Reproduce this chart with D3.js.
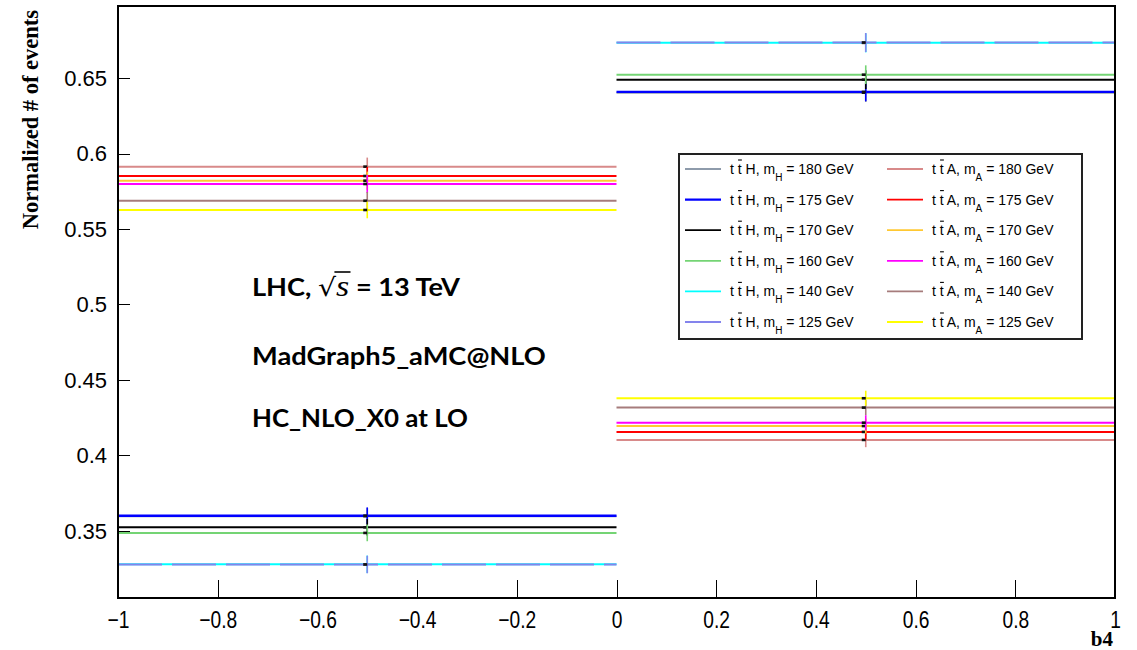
<!DOCTYPE html>
<html>
<head>
<meta charset="utf-8">
<script src="https://cdn.jsdelivr.net/npm/d3@7"></script>
<style>
  html, body { margin: 0; padding: 0; background: #fff; }
  svg { display: block; }
</style>
</head>
<body>
<svg id="chart" width="1137" height="650"></svg>
<script>
// b4 distribution: two bins, normalised fractions with statistical errors
const binEdges   = [-1, 0, 1];
const binCenters = [-0.5, 0.5];

// one entry per sample: tt̄H (scalar) and tt̄A (pseudoscalar) at several masses
const process = ["H", "H", "H", "H", "H", "H", "A", "A", "A", "A", "A", "A"];
const mass    = [180, 175, 170, 160, 140, 125, 180, 175, 170, 160, 140, 125];
const colors  = ["#8e9bab", "#0000ff", "#000000", "#74d474", "#00ffff", "#8484ec",
                 "#d88a8a", "#ff0000", "#ffc832", "#ff00ff", "#a67c7c", "#ffff00"];

// fraction of events with b4 < 0 and b4 > 0
const fracNeg = [0.3598, 0.3601, 0.3524, 0.3487, 0.3279, 0.3278,
                 0.5913, 0.5851, 0.5820, 0.5798, 0.5687, 0.5626];
const fracPos = [0.6403, 0.6408, 0.6489, 0.6522, 0.6733, 0.6735,
                 0.4103, 0.4156, 0.4195, 0.4217, 0.4317, 0.4379];
const errNeg  = [0.0055, 0.0055, 0.0055, 0.0055, 0.0058, 0.0058,
                 0.0060, 0.0060, 0.0060, 0.0060, 0.0058, 0.0055];
const errPos  = [0.0062, 0.0062, 0.0062, 0.0062, 0.0063, 0.0063,
                 0.0048, 0.0050, 0.0050, 0.0050, 0.0050, 0.0050];

const xTickValues = [-1, -0.8, -0.6, -0.4, -0.2, 0, 0.2, 0.4, 0.6, 0.8, 1];
const yTickValues = [0.35, 0.4, 0.45, 0.5, 0.55, 0.6, 0.65];

const annotations = ["MadGraph5_aMC@NLO", "HC_NLO_X0 at LO"];

const svg = d3.select("#chart");
const frame = { left: 118, right: 1115, top: 6, bottom: 598 };

const x = d3.scaleLinear().domain([-1, 1]).range([frame.left, frame.right]);
const y = d3.scaleLinear().domain([0.3056, 0.6977]).range([frame.bottom, frame.top]);

// ---------- axes (ticks point into the frame) ----------
const fmt = d3.format("~g");
const minorX = d3.range(-1, 1.0001, 0.05).map(v => +v.toFixed(2));
const minorY = d3.range(0.31, 0.6901, 0.01).map(v => +v.toFixed(2));

const gx = svg.append("g").attr("transform", `translate(0,${frame.bottom})`);
gx.call(d3.axisBottom(x).tickValues(minorX).tickSize(-9).tickFormat(""));
gx.call(d3.axisBottom(x).tickValues(xTickValues).tickSize(-18).tickPadding(13).tickFormat(fmt));
gx.selectAll(".domain").remove();
gx.selectAll("line").attr("stroke", "#000").attr("shape-rendering", "crispEdges");
// condensed tick labels along b4
gx.selectAll(".tick text")
  .attr("fill", "#000")
  .style("font-family", "'Liberation Sans', Arial, sans-serif")
  .style("font-size", "24px")
  .each(function () {
    const t = d3.select(this);
    const yy = +t.attr("y");
    t.attr("y", null).attr("transform", `translate(0,${yy}) scale(0.8,1)`);
  });

const gy = svg.append("g").attr("transform", `translate(${frame.left},0)`);
gy.call(d3.axisLeft(y).tickValues(minorY).tickSize(-12).tickFormat(""));
gy.call(d3.axisLeft(y).tickValues(yTickValues).tickSize(-12).tickPadding(11).tickFormat(fmt));
gy.selectAll(".domain").remove();
gy.selectAll("line").attr("stroke", "#000").attr("shape-rendering", "crispEdges");
gy.selectAll("text")
  .attr("fill", "#000")
  .style("font-family", "'Liberation Sans', Arial, sans-serif")
  .style("font-size", "22px");

// ---------- histogram bins ----------
const samples = d3.range(process.length).map(i => ({
  i, color: colors[i],
  vals: [fracNeg[i], fracPos[i]],
  errs: [errNeg[i], errPos[i]]
}));

const plot = svg.append("g");
samples.forEach(s => {
  const g = plot.append("g");
  [0, 1].forEach(b => {
    const line = g.append("line")
      .attr("x1", x(binEdges[b])).attr("x2", x(binEdges[b + 1]))
      .attr("y1", y(s.vals[b])).attr("y2", y(s.vals[b]))
      .attr("stroke", s.color)
      .attr("stroke-width", s.color === "#0000ff" ? 2.4 : 2);
    // the 125 GeV scalar sits on top of the 140 GeV one and lets it show through
    if (process[s.i] === "H" && mass[s.i] === 125) {
      line.attr("stroke-dasharray", "44 10").attr("stroke-dashoffset", 0);
    }
    // statistical error bar
    g.append("line")
      .attr("x1", x(binCenters[b])).attr("x2", x(binCenters[b]))
      .attr("y1", y(s.vals[b] - s.errs[b])).attr("y2", y(s.vals[b] + s.errs[b]))
      .attr("stroke", s.color).attr("stroke-width", 1.6);
    // bin-centre marker
    g.append("rect")
      .attr("x", x(binCenters[b]) - 4).attr("y", y(s.vals[b]) - 1.3)
      .attr("width", 4).attr("height", 2.6)
      .attr("fill", "#111");
  });
});

// ---------- frame ----------
svg.append("rect")
  .attr("x", frame.left).attr("y", frame.top)
  .attr("width", frame.right - frame.left).attr("height", frame.bottom - frame.top)
  .attr("fill", "none").attr("stroke", "#000").attr("stroke-width", 1.2)
  .attr("shape-rendering", "crispEdges");

// ---------- axis titles ----------
svg.append("text")
  .attr("transform", "translate(38,10) rotate(-90)")
  .attr("text-anchor", "end")
  .style("font-family", "'Liberation Serif', 'Times New Roman', serif")
  .style("font-weight", "bold").style("font-size", "22.5px")
  .text("Normalized # of events");

svg.append("text")
  .attr("x", 1113).attr("y", 646)
  .attr("text-anchor", "end")
  .style("font-family", "'Liberation Serif', 'Times New Roman', serif")
  .style("font-weight", "bold").style("font-size", "21px")
  .text("b4");

// ---------- annotation ----------
const annFont = "Lato, 'Open Sans', sans-serif";
// each line is stretched horizontally to its target width
function fitWidth(sel, width) {
  const w = sel.node().getComputedTextLength();
  return width / w;
}

const lhcG = svg.append("g");
const lhc = lhcG.append("text")
  .attr("x", 0).attr("y", 0)
  .style("font-family", annFont).style("font-weight", "bold").style("font-size", "24px");
lhc.append("tspan").text("LHC, ");
lhc.append("tspan").style("font-family", "'DejaVu Serif', serif").style("font-weight", "normal")
  .style("font-size", "25px").text("√");
lhc.append("tspan").style("font-family", "'Liberation Serif', serif").style("font-style", "italic")
  .style("font-weight", "normal").style("font-size", "30px").text("s");
lhc.append("tspan").text(" = 13 TeV");
{
  const n = lhc.node();
  const rEnd = n.getEndPositionOfChar(5).x;
  const sEnd = n.getEndPositionOfChar(6).x;
  lhcG.append("line")
    .attr("x1", rEnd - 1.5).attr("x2", sEnd + 1)
    .attr("y1", -24).attr("y2", -24)
    .attr("stroke", "#000").attr("stroke-width", 1.6);
  lhcG.attr("transform", `translate(252,296) scale(${fitWidth(lhc, 208)},1)`);
}
const annWidths = [294, 216];
annotations.forEach((t, k) => {
  const txt = svg.append("text")
    .attr("x", 0).attr("y", 0)
    .style("font-family", annFont).style("font-weight", "bold").style("font-size", "24px")
    .text(t);
  txt.attr("transform", `translate(252,${365 + k * 62}) scale(${fitWidth(txt, annWidths[k])},1)`);
});

// ---------- legend ----------
const legend = svg.append("g");
legend.append("rect")
  .attr("x", 679).attr("y", 154).attr("width", 403).attr("height", 185)
  .attr("fill", "#fff").attr("stroke", "#222").attr("stroke-width", 1.3)
  .attr("shape-rendering", "crispEdges");

const colX = { H: 685, A: 887 };
samples.forEach(s => {
  const p = process[s.i];
  const row = p === "H" ? s.i : s.i - 6;
  const cy = 169 + row * 30.6;
  const x0 = colX[p];
  legend.append("line")
    .attr("x1", x0).attr("x2", x0 + 36).attr("y1", cy).attr("y2", cy)
    .attr("stroke", s.color).attr("stroke-width", s.color === "#0000ff" ? 2.2 : 1.8);
  const t = legend.append("text")
    .attr("x", x0 + 45).attr("y", cy + 5)
    .style("font-family", "'Liberation Sans', Arial, sans-serif")
    .style("font-size", "14px").attr("fill", "#000");
  t.append("tspan").text(`t t ${p}, m`);
  t.append("tspan").attr("dy", 7).style("font-size", "10px").text(p);
  t.append("tspan").attr("dy", -7).text(` = ${mass[s.i]} GeV`);
  // bar over the anti-top
  const n = t.node();
  const a = n.getStartPositionOfChar(2).x, b = n.getEndPositionOfChar(2).x;
  legend.append("line")
    .attr("x1", a + 0.3).attr("x2", b + 0.2)
    .attr("y1", cy - 9).attr("y2", cy - 9)
    .attr("stroke", "#000").attr("stroke-width", 1.1);
});
</script>
</body>
</html>
